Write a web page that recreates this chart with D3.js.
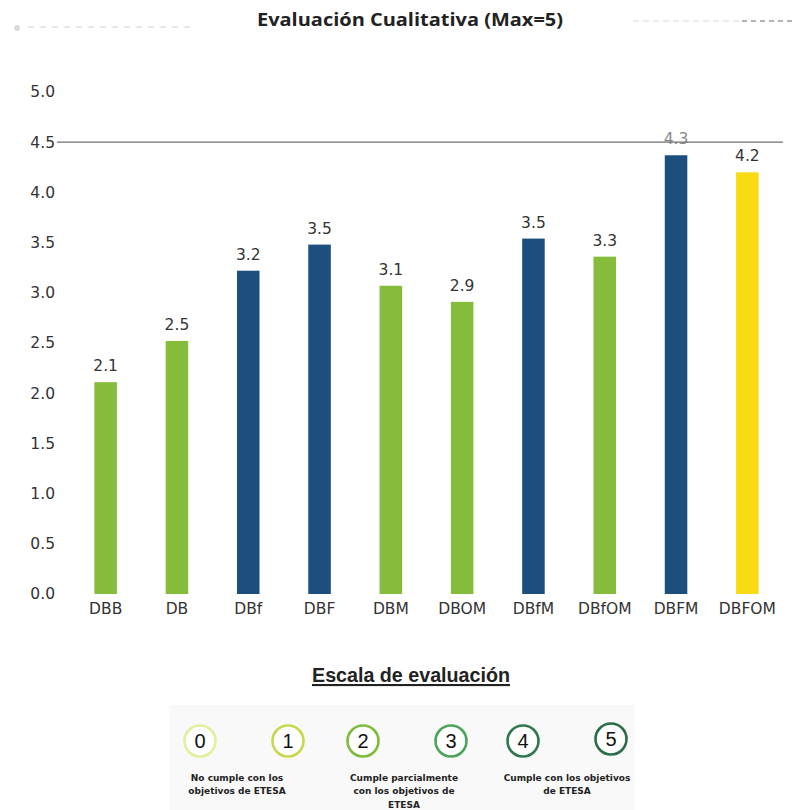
<!DOCTYPE html>
<html>
<head>
<meta charset="utf-8">
<script src="https://cdn.jsdelivr.net/npm/d3@7"></script>
<style>
  html, body { margin: 0; padding: 0; background: #ffffff; }
  svg { display: block; }
</style>
</head>
<body>
<script>
// ---- data ----
const categories = ["DBB", "DB", "DBf", "DBF", "DBM", "DBOM", "DBfM", "DBfOM", "DBFM", "DBFOM"];
const values = [2.11, 2.52, 3.22, 3.48, 3.07, 2.91, 3.54, 3.36, 4.37, 4.2];
const valueLabels = ["2.1", "2.5", "3.2", "3.5", "3.1", "2.9", "3.5", "3.3", "4.3", "4.2"];
const groups = ["g", "g", "b", "b", "g", "g", "b", "g", "b", "y"];
const yTicks = [0, 0.5, 1, 1.5, 2, 2.5, 3, 3.5, 4, 4.5, 5];
const threshold = 4.5;
const scaleValues = [0, 1, 2, 3, 4, 5];
const scaleCaptions = [
  ["No cumple con los", "objetivos de ETESA"],
  ["Cumple parcialmente", "con los objetivos de", "ETESA"],
  ["Cumple con los objetivos", "de ETESA"]
];
const title = "Evaluación Cualitativa (Max=5)";
const scaleTitle = "Escala de evaluación";

// ---- chart ----
const W = 801, H = 810;
const svg = d3.select("body").append("svg").attr("width", W).attr("height", H);

const x = d3.scaleBand().domain(categories).range([70, 783]).paddingInner(0.684).paddingOuter(0.342);
const y = d3.scaleLinear().domain([0, 5]).range([594, 92]);
const color = d3.scaleOrdinal().domain(["g", "b", "y"]).range(["#86bc3b", "#1c4f7d", "#f8db12"]);

// faint decorative dashes near title
svg.append("line").attr("x1", 28).attr("x2", 195).attr("y1", 27).attr("y2", 27)
  .attr("stroke", "#e8e8e8").attr("stroke-width", 2).attr("stroke-dasharray", "6,6");
svg.append("circle").attr("cx", 17).attr("cy", 28).attr("r", 3).attr("fill", "#dadada");
svg.append("line").attr("x1", 633).attr("x2", 742).attr("y1", 21).attr("y2", 21)
  .attr("stroke", "#e6e6e6").attr("stroke-width", 1.5).attr("stroke-dasharray", "6,4");
svg.append("line").attr("x1", 742).attr("x2", 796).attr("y1", 21).attr("y2", 21)
  .attr("stroke", "#999").attr("stroke-width", 1.5).attr("stroke-dasharray", "5,4");

svg.append("text").attr("x", 410).attr("y", 26).attr("text-anchor", "middle")
  .attr("font-family", "'Open Sans', sans-serif").attr("font-weight", "bold").attr("font-size", 17.5)
  .attr("textLength", 306).attr("lengthAdjust", "spacingAndGlyphs")
  .attr("fill", "#222").text(title);

// y axis (no domain line, no tick marks)
const yAxis = d3.axisLeft(y).tickValues(yTicks).tickFormat(d3.format(".1f")).tickSize(0).tickPadding(0);
const gy = svg.append("g").attr("transform", "translate(55,0)").call(yAxis);
gy.select(".domain").remove();
gy.selectAll("text").attr("font-family", "'DejaVu Sans', Verdana, sans-serif").attr("font-size", 15.5).attr("fill", "#333");

// x axis
const xAxis = d3.axisBottom(x).tickSize(0).tickPadding(0);
const gx = svg.append("g").attr("transform", "translate(0,603)").call(xAxis);
gx.select(".domain").remove();
gx.selectAll("text").attr("font-family", "'DejaVu Sans', Verdana, sans-serif").attr("font-size", 15.5).attr("fill", "#333");

// bars
const data = categories.map((c, i) => ({ c, v: values[i], l: valueLabels[i], g: groups[i] }));
svg.append("g").selectAll("rect").data(data).join("rect")
  .attr("x", d => x(d.c)).attr("width", x.bandwidth())
  .attr("y", d => y(d.v)).attr("height", d => y(0) - y(d.v))
  .attr("fill", d => color(d.g));

svg.append("g").selectAll("text").data(data).join("text")
  .attr("x", d => x(d.c) + x.bandwidth() / 2).attr("y", d => y(d.v) - 11)
  .attr("text-anchor", "middle")
  .attr("font-family", "'DejaVu Sans', Verdana, sans-serif").attr("font-size", 15.5)
  .attr("fill", (d, i) => i === 8 ? "#888" : "#333").text(d => d.l);

// threshold line at 4.5
svg.append("line").attr("x1", 57).attr("x2", 783).attr("y1", y(threshold)).attr("y2", y(threshold))
  .attr("stroke", "#6f6f6f").attr("stroke-width", 1.3);

// ---- evaluation scale ----
svg.append("text").attr("x", 411).attr("y", 682).attr("text-anchor", "middle")
  .attr("font-family", "'Liberation Sans Narrow', 'Arial Narrow', sans-serif").attr("font-weight", "bold")
  .attr("font-size", 21).attr("textLength", 198).attr("lengthAdjust", "spacingAndGlyphs")
  .attr("fill", "#222").attr("text-decoration", "underline").text(scaleTitle);

svg.append("rect").attr("x", 170).attr("y", 705).attr("width", 465).attr("height", 105).attr("fill", "#f9f9f9");

const circleColor = d3.scaleOrdinal().domain(scaleValues)
  .range(["#e4ee9c", "#c8d84c", "#7fbc3c", "#4aa55a", "#2e7a4c", "#2b6d47"]);
const cxPos = [200, 288, 363, 451, 523, 611];
const circ = svg.append("g").selectAll("g").data(scaleValues).join("g")
  .attr("transform", (d, i) => `translate(${cxPos[i]},${i === 5 ? 739 : 741})`);
circ.append("circle").attr("r", 15.5).attr("fill", "#fff")
  .attr("stroke", d => circleColor(d)).attr("stroke-width", 2.6);
circ.append("text").attr("text-anchor", "middle").attr("dy", "0.36em")
  .attr("font-family", "'Liberation Sans', Arial, sans-serif").attr("font-size", 20)
  .attr("fill", "#111").text(d => d);

const capX = [237, 404, 567];
scaleCaptions.forEach((lines, k) => {
  const t = svg.append("text").attr("text-anchor", "middle")
    .attr("font-family", "'DejaVu Sans', Verdana, sans-serif").attr("font-size", 9)
    .attr("font-weight", "bold").attr("fill", "#222");
  lines.forEach((ln, j) => {
    t.append("tspan").attr("x", capX[k]).attr("y", 781 + j * 13.3).text(ln);
  });
});
</script>
</body>
</html>
